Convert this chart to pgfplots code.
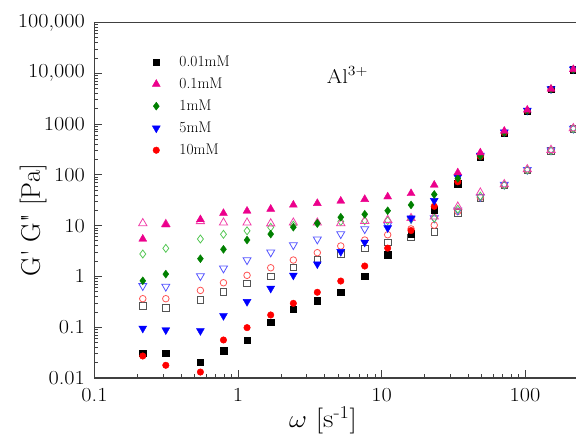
\documentclass[border=0pt]{standalone}
\usepackage{pgfplots}
\pgfplotsset{compat=1.18}

\begin{document}
\begin{tikzpicture}
\begin{axis}[
  name=ax,
  xmode=log, ymode=log,
  scale only axis,
  width=499bp, height=355.6bp,
  xmin=0.1, xmax=300,
  ymin=0.01, ymax=100000,
  xtick={0.1,1,10,100},
  xticklabels={0.1,1,10,100},
  ytick={0.01,0.1,1,10,100,1000,10000,100000},
  yticklabels={0.01,0.1,1,10,100,1000,{10,000},{100,000}},
  tick align=inside,
  tick pos=left,
  major tick length=8bp,
  minor tick length=4bp,
  tick style={black!75, line width=0.8pt},
  axis line style={black!75, line width=1.3pt},
  ticklabel style={font=\fontsize{20}{24}\selectfont, xscale=1.12},
  yticklabel style={xshift=-5bp},
  xticklabel style={yshift=-7bp},
  xlabel={$\omega$ [s\textsuperscript{-1}]},
  xlabel style={at={(axis description cs:0.458,-0.118)}, anchor=center,
    font=\fontsize{26}{30}\selectfont, xscale=1.12},
  ylabel={G\textquotesingle{} G\textquotedbl{} [Pa]},
  ylabel style={at={(axis description cs:-0.123,0.444)}, anchor=center,
    font=\fontsize{27}{31}\selectfont},
  legend cell align=left,
  legend image code/.code={
    \path (-5bp,0bp) (21bp,0bp);
    \draw[#1] plot coordinates {(0bp,0bp)};
  },
  legend style={
    at={(axis description cs:0.107,0.917)}, anchor=north west,
    draw=none, fill=none,
    font=\fontsize{15.5}{18}\selectfont,
    row sep=6bp,
  },
]
% loss modulus G'' (open marks)
\addplot[forget plot, only marks, mark=square, mark size=3.3pt, mark options={black!67, line width=0.8pt}] coordinates {
(0.217,0.261) (0.314,0.239) (0.547,0.348) (0.792,0.50) (1.156,0.73) (1.69,1.0) (2.43,1.51) (3.57,2.1) (5.2,2.76) (7.64,3.57) (11.04,4.7) (16.06,5.9) (23.3,7.6) (34.0,18) (48.8,35) (71.7,62) (103.7,122) (151.7,295) (217,800)};
\addplot[forget plot, only marks, mark=o, mark size=3.3pt, mark options={red!67, line width=0.8pt}] coordinates {
(0.217,0.364) (0.314,0.364) (0.547,0.53) (0.792,0.75) (1.156,1.05) (1.69,1.48) (2.43,2.1) (3.57,2.93) (5.2,3.97) (7.64,5.2) (11.04,6.6) (16.06,8.6) (23.3,10.2) (34.0,19) (48.8,36) (71.7,63) (103.7,124) (151.7,300) (217,810)};
\addplot[forget plot, only marks, mark=triangle, mark size=4.6pt, mark options={blue!67, rotate=180, line width=0.8pt}] coordinates {
(0.217,0.65) (0.314,0.63) (0.547,1.02) (0.792,1.44) (1.156,2.1) (1.69,2.98) (2.43,4.15) (3.57,5.37) (5.2,6.83) (7.64,8.57) (11.04,10.3) (16.06,13.5) (23.3,14) (34.0,20) (48.8,37) (71.7,64) (103.7,126) (151.7,305) (217,815)};
\addplot[forget plot, only marks, mark=diamond, mark size=4pt, mark options={green!67!black!67, line width=0.8pt}] coordinates {
(0.217,2.76) (0.314,3.57) (0.547,5.45) (0.792,6.74) (1.156,7.9) (1.69,9.25) (2.43,10.2) (3.57,11.0) (5.2,12.0) (7.64,12.5) (11.04,12.5) (16.06,13.5) (23.3,14) (34.0,21) (48.8,38) (71.7,63) (103.7,125) (151.7,300) (217,810)};
\addplot[forget plot, only marks, mark=triangle, mark size=4.8pt, mark options={magenta!75, line width=0.8pt}] coordinates {
(0.217,11.1) (0.314,10.7) (0.547,12.2) (0.792,11.4) (1.156,11.4) (1.69,11.0) (2.43,11.4) (3.57,11.4) (5.2,11.1) (7.64,12.3) (11.04,12.9) (16.06,14.0) (23.3,15) (34.0,23.5) (48.8,44.5) (71.7,65) (103.7,128) (151.7,308) (217,822)};
% storage modulus G' (filled marks)
\addplot[forget plot, only marks, mark=square*, mark size=3.3pt, mark options={black}] coordinates {
(0.217,0.0306) (0.314,0.0306) (0.547,0.0204) (0.792,0.0344) (1.156,0.056) (1.69,0.125) (2.43,0.228) (3.57,0.333) (5.2,0.487) (7.64,1.0) (11.04,2.64) (16.06,7.0) (23.3,20.3) (34.0,66) (48.8,227) (71.7,656) (103.7,1800) (151.7,4800) (217,11800)};
\addplot[forget plot, only marks, mark=*, mark size=3.3pt, mark options={red}] coordinates {
(0.217,0.0271) (0.314,0.0178) (0.547,0.0131) (0.792,0.056) (1.156,0.098) (1.69,0.174) (2.43,0.295) (3.57,0.487) (5.2,0.81) (7.64,1.6) (11.04,3.6) (16.06,8.0) (23.3,24) (34.0,73) (48.8,230) (71.7,670) (103.7,1820) (151.7,4850) (217,11800)};
\addplot[forget plot, only marks, mark=triangle*, mark size=4.6pt, mark options={blue, rotate=180}] coordinates {
(0.217,0.095) (0.314,0.088) (0.547,0.085) (0.792,0.168) (1.156,0.318) (1.69,0.58) (2.43,1.05) (3.57,1.75) (5.2,3.06) (7.64,4.69) (11.04,9.0) (16.06,14) (23.3,31) (34.0,90) (48.8,240) (71.7,690) (103.7,1850) (151.7,4900) (217,12000)};
\addplot[forget plot, only marks, mark=diamond*, mark size=4pt, mark options={green!50!black}] coordinates {
(0.217,0.82) (0.314,1.11) (0.547,2.23) (0.792,3.41) (1.156,5.2) (1.69,6.8) (2.43,9.3) (3.57,11.1) (5.2,14.6) (7.64,16.7) (11.04,19.6) (16.06,25.5) (23.3,41) (34.0,85) (48.8,235) (71.7,680) (103.7,1850) (151.7,4900) (217,11900)};
\addplot[forget plot, only marks, mark=triangle*, mark size=4.6pt, mark options={magenta}] coordinates {
(0.217,5.45) (0.314,10.4) (0.547,13.2) (0.792,17.5) (1.156,19.4) (1.69,21.2) (2.43,25.5) (3.57,27.5) (5.2,30.5) (7.64,33) (11.04,37) (16.06,43) (23.3,63) (34.0,110) (48.8,272) (71.7,728) (103.7,1890) (151.7,4890) (217,11900)};

\addlegendimage{only marks, mark=square*, mark size=3.3pt, mark options={black}}
\addlegendentry{0.01mM}
\addlegendimage{only marks, mark=triangle*, mark size=4.6pt, mark options={magenta}}
\addlegendentry{0.1mM}
\addlegendimage{only marks, mark=diamond*, mark size=4pt, mark options={green!50!black}}
\addlegendentry{1mM}
\addlegendimage{only marks, mark=triangle*, mark size=4.6pt, mark options={blue, rotate=180}}
\addlegendentry{5mM}
\addlegendimage{only marks, mark=*, mark size=3.3pt, mark options={red}}
\addlegendentry{10mM}

\node[anchor=base west, font=\fontsize{20}{24}\selectfont, xscale=1.12] at (axis cs:3.91,6410) {Al\textsuperscript{3+}};
\end{axis}
\pgfresetboundingbox
\path ([xshift=-94.5bp,yshift=-58bp]ax.south west) rectangle ([xshift=481.5bp,yshift=22.4bp]ax.north west);
\end{tikzpicture}
\end{document}
